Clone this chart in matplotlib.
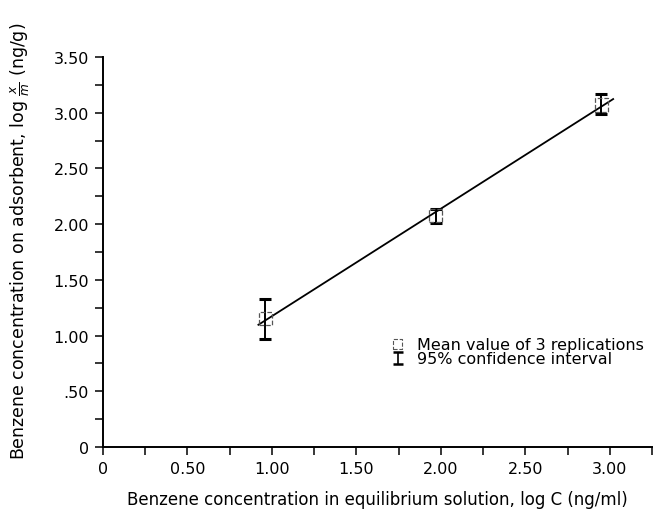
import numpy as np
import matplotlib.pyplot as plt

# data
log_c = [0.96, 1.97, 2.95]
log_xm = [1.15, 2.08, 3.07]
ci_low = [0.97, 2.01, 2.99]
ci_high = [1.33, 2.14, 3.17]
line_x = [0.92, 3.02]

x_ticks = [0, 0.5, 1.0, 1.5, 2.0, 2.5, 3.0]
x_ticklabels = ['0', '0.50', '1.00', '1.50', '2.00', '2.50', '3.00']
y_ticks = [0, 0.5, 1.0, 1.5, 2.0, 2.5, 3.0, 3.5]
y_ticklabels = ['0', '.50', '1.00', '1.50', '2.00', '2.50', '3.00', '3.50']

plt.rcParams['font.family'] = ['DejaVu Sans']

fig = plt.figure(figsize=(6.55, 5.10), dpi=100)
ax = fig.add_axes([103 / 655, 62 / 510, 549 / 655, 390 / 510])

x = np.array(log_c)
y = np.array(log_xm)
err = [y - np.array(ci_low), np.array(ci_high) - y]

# regression line
k, b = np.polyfit(x, y, 1)
lx = np.array(line_x)
ax.plot(lx, k * lx + b, color='black', lw=1.3, zorder=3)

# error bars
ax.errorbar(x, y, yerr=err, fmt='none', ecolor='black', elinewidth=1.4,
            capsize=4.5, capthick=2.2, zorder=4)

# mean markers (dashed open squares)
ax.scatter(x, y, marker='s', s=90, facecolors='none', edgecolors='#555555',
           linewidths=0.9, linestyles='--', zorder=5)

# legend drawn by hand
ax.scatter([0.537], [0.264], marker='s', s=45, facecolors='none',
           edgecolors='#555555', linewidths=0.8, linestyles='--',
           transform=ax.transAxes, clip_on=False)
ax.errorbar([0.537], [0.228], yerr=[[0.016], [0.016]], fmt='none',
            ecolor='black', elinewidth=1.2, capsize=3.5, capthick=1.8,
            transform=ax.transAxes, clip_on=False)
ax.text(0.572, 0.264, 'Mean value of 3 replications', transform=ax.transAxes,
        fontsize=11.5, va='center', ha='left')
ax.text(0.572, 0.228, '95% confidence interval', transform=ax.transAxes,
        fontsize=11.5, va='center', ha='left')

ax.set_xlim(0, 3.25)
ax.set_ylim(0, 3.5)
ax.set_xticks(np.arange(0, 3.26, 0.25))
ax.set_yticks(np.arange(0, 3.51, 0.25))
ax.set_xticklabels([x_ticklabels[x_ticks.index(t)] if t in x_ticks else ''
                    for t in np.round(np.arange(0, 3.26, 0.25), 2)])
ax.set_yticklabels([y_ticklabels[y_ticks.index(t)] if t in y_ticks else ''
                    for t in np.round(np.arange(0, 3.51, 0.25), 2)])
ax.tick_params(direction='out', length=6, width=1.1, labelsize=11.5, pad=4)

ax.spines['top'].set_visible(False)
ax.spines['right'].set_visible(False)
ax.spines['left'].set_linewidth(1.4)
ax.spines['bottom'].set_linewidth(1.4)

ax.set_xlabel('Benzene concentration in equilibrium solution, log C (ng/ml)',
              fontsize=12, labelpad=10)
ax.set_ylabel(r'Benzene concentration on adsorbent, log $\frac{x}{m}$ (ng/g)',
              fontsize=12.5)
ax.yaxis.set_label_coords(-0.13, 0.53)

fig.savefig('out.png', dpi=100)
